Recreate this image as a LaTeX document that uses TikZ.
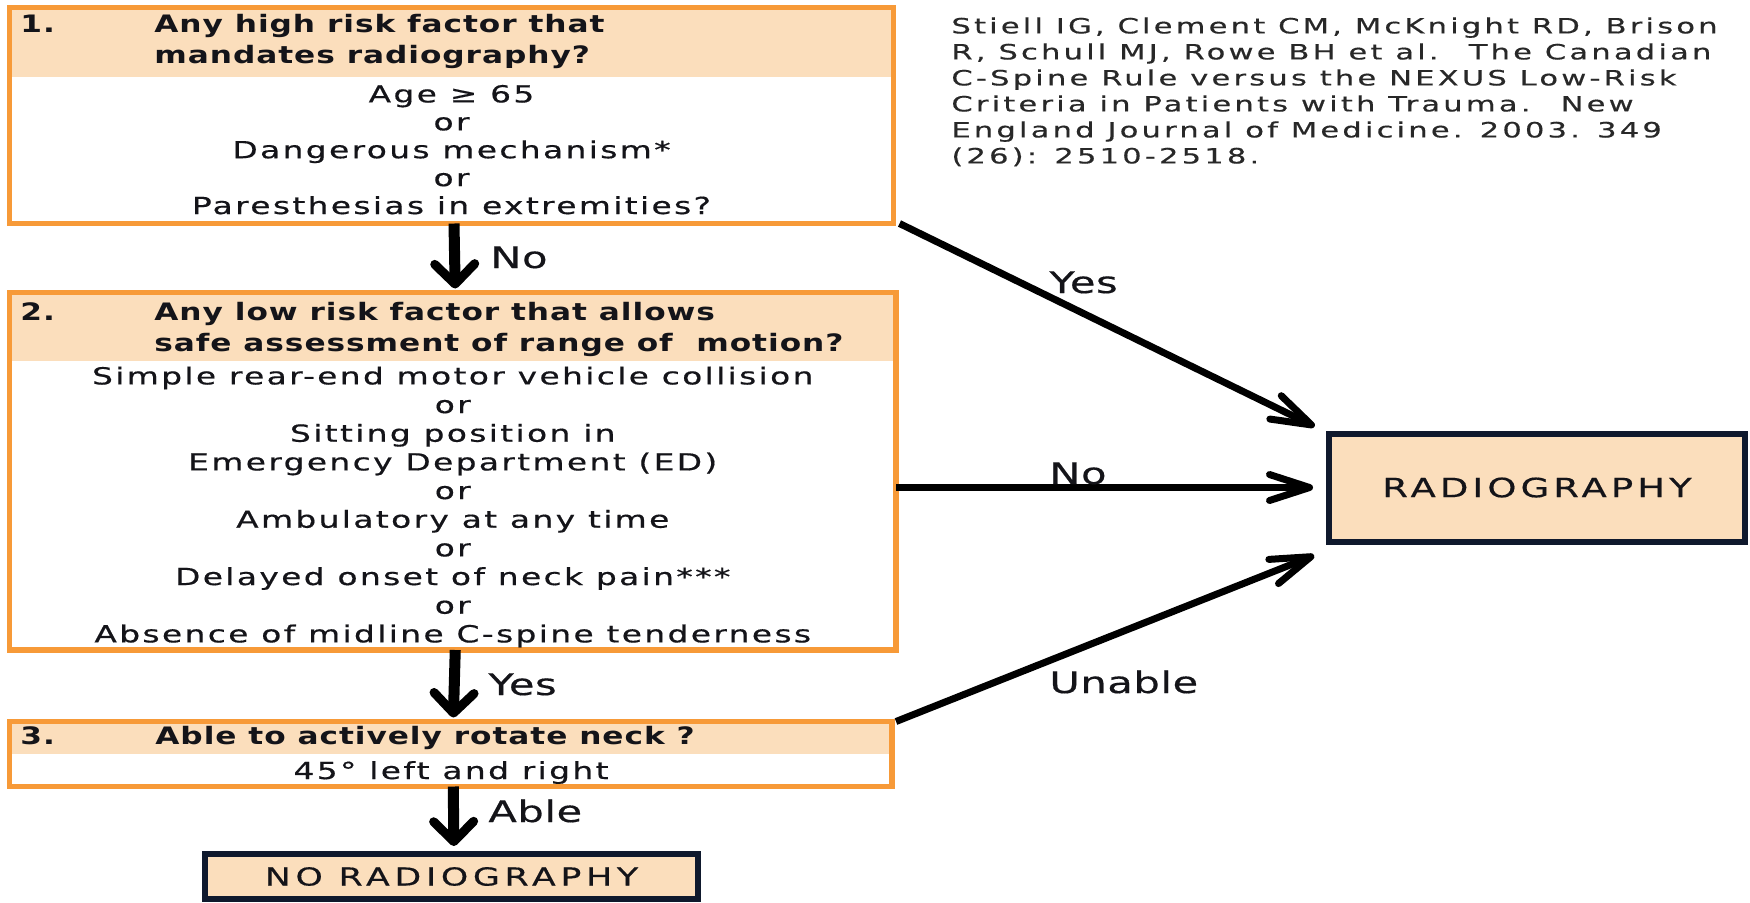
\documentclass[tikz,border=0pt]{standalone}
\usepackage{fontspec}
\setmainfont{DejaVu Sans}
\usetikzlibrary{arrows.meta,calc}
\newfontfamily\bodyfont[FakeStretch=1.4,LetterSpace=10,FakeBold=0.5]{DejaVu Sans}
\newfontfamily\headfont[FakeStretch=1.3,LetterSpace=4]{DejaVu Sans}
\newfontfamily\lblfont[FakeStretch=1.4,LetterSpace=2,FakeBold=0.5]{DejaVu Sans}
\newfontfamily\citefont[FakeStretch=1.45,LetterSpace=15,FakeBold=0.4]{DejaVu Sans}
\newfontfamily\capsfont[FakeStretch=1.4,LetterSpace=15,FakeBold=0.5]{DejaVu Sans}
\newfontfamily\capsfontb[FakeStretch=1.4,LetterSpace=19,FakeBold=0.5]{DejaVu Sans}
\definecolor{boxorange}{RGB}{247,154,56}
\definecolor{peach}{RGB}{251,222,188}
\definecolor{navyline}{RGB}{15,25,45}
\definecolor{inkcol}{RGB}{20,20,25}
\definecolor{citegray}{RGB}{40,40,40}
\newcommand\firststrut{\rule{0pt}{10pt}}
\newcommand\citestrut{\rule{0pt}{8pt}}
\begin{document}
\begin{tikzpicture}[x=0.5pt,y=-0.5pt,
  obox/.style={draw=boxorange,line width=2.75pt,fill=white,inner sep=0pt,outer sep=0pt},
  dbox/.style={draw=navyline,line width=3pt,fill=peach,inner sep=0pt,outer sep=0pt,text=inkcol},
  bodytxt/.style={font=\bodyfont\fontsize{11.75pt}{14.25pt}\selectfont,text=inkcol,align=center,inner sep=0pt,anchor=north},
  headtxt/.style={font=\headfont\bfseries\fontsize{12pt}{15.5pt}\selectfont,text=inkcol,align=left,inner sep=0pt},
  lbltxt/.style={font=\lblfont\fontsize{14.85pt}{18pt}\selectfont,text=inkcol,inner sep=0pt,anchor=base west},
  varrow/.style={line width=5.5pt,-{Straight Barb[round,length=10pt,width=20pt,line width=4.5pt]}},
  darrow/.style={line width=3.5pt,-{Straight Barb[round,length=20pt,width=13pt]}}
]
\useasboundingbox (0,0) rectangle (1750,902);

% boxes
\node[obox,minimum width=442pt,minimum height=108pt] (b1) at (451.5,115.5) {};
\fill[peach] ($(b1.north west)+(2.75,2.75)$) rectangle ($(b1.north east)+(-2.75,69.5)$);
\node[obox,minimum width=443.25pt,minimum height=178.75pt] (b2) at (452.75,471.25) {};
\fill[peach] ($(b2.north west)+(2.75,2.75)$) rectangle ($(b2.north east)+(-2.75,68.5)$);
\node[obox,minimum width=441.25pt,minimum height=32.5pt] (b3) at (450.75,754) {};
\fill[peach] ($(b3.north west)+(2.75,2.75)$) rectangle ($(b3.north east)+(-2.75,32.5)$);

\node[dbox,minimum width=208pt,minimum height=54pt,font=\capsfont\fontsize{13.25pt}{15pt}\selectfont] (rad) at (1537,487.5) {RADIOGRAPHY};
\node[dbox,minimum width=246.5pt,minimum height=22.5pt,font=\capsfontb\fontsize{12.4pt}{15pt}\selectfont] (norad) at (451.5,876.5) {NO RADIOGRAPHY};

% box 1 texts
\node[headtxt,anchor=base west] (n1) at (20,32) {1.};
\node[headtxt,anchor=north west] (h1) at (154,12) {\firststrut Any high risk factor that\\mandates radiography?};
\node[bodytxt,font=\bodyfont\fontsize{11.75pt}{13.95pt}\selectfont] (t1) at (451.5,82) {\firststrut Age ≥ 65\\or\\Dangerous mechanism*\\or\\Paresthesias in extremities?};

% box 2 texts
\node[headtxt,anchor=base west] (n2) at (20,320) {2.};
\node[headtxt,anchor=north west] (h2) at (154,300) {\firststrut Any low risk factor that allows\\safe assessment of range of~ motion?};
\node[bodytxt,font=\bodyfont\fontsize{11.75pt}{14.33pt}\selectfont] (t2) at (452.75,364) {\firststrut Simple rear-end motor vehicle collision\\or\\Sitting position in\\Emergency Department (ED)\\or\\Ambulatory at any time\\or\\Delayed onset of neck pain***\\or\\Absence of midline C-spine tenderness};

% box 3 texts
\node[headtxt,anchor=base west] (n3) at (20,744) {3.};
\node[headtxt,anchor=base west] (h3) at (155,744) {Able to actively rotate neck ?};
\node[bodytxt,anchor=base] (t3) at (451,779) {45° left and right};

% citation
\node[font=\citefont\fontsize{10.55pt}{13pt}\selectfont,text=citegray,align=left,inner sep=0pt,anchor=north west] (cite) at (951,17) {\citestrut Stiell IG, Clement CM, McKnight RD, Brison\\R, Schull MJ, Rowe BH et al.~ The Canadian\\C-Spine Rule versus the NEXUS Low-Risk\\Criteria in Patients with Trauma.~ New\\England Journal of Medicine. 2003. 349\\(26): 2510-2518.};

% vertical arrows
\draw[varrow,shorten >=2pt] ([xshift=1.25pt]b1.south) -- ([xshift=1.25pt]b2.north);
\draw[varrow,shorten >=2pt] ([xshift=1.25pt]b2.south) -- ([xshift=1.25pt]b3.north);
\draw[varrow,shorten >=4pt] ([xshift=1.25pt]b3.south) -- ([xshift=1.25pt]norad.north);
\node[lbltxt] (lno1) at (490,268) {No};
\node[lbltxt] (lyes2) at (488,695) {Yes};
\node[lbltxt] (lable) at (488,822) {Able};

% arrows to radiography
\draw[darrow,shorten >=8pt] ([xshift=3pt]b1.south east) -- (rad.north west);
\draw[darrow,shorten >=8pt] (b2.east |- rad.west) -- (rad.west);
\draw[darrow,shorten >=8pt] ([xshift=2pt]b3.north east) -- ([yshift=-4pt]rad.south west);
\node[lbltxt] (lyes1) at (1049,293) {Yes};
\node[lbltxt] (lno2) at (1049,484) {No};
\node[lbltxt] (lunable) at (1049,693) {Unable};
\end{tikzpicture}
\end{document}
